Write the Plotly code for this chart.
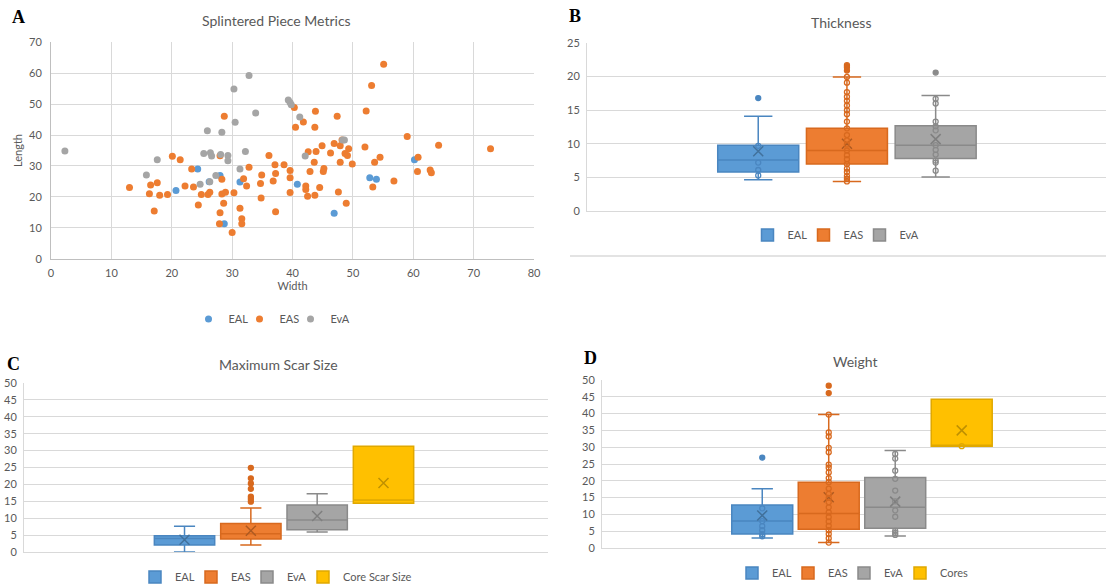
import plotly.graph_objects as go

# ---------------- Panel A data: Splintered Piece Metrics (Width vs Length) ----------------
eal_w = [20.7, 24.3, 26.2, 28.0, 28.7, 31.3, 40.8, 46.9, 52.8, 53.9, 60.2]
eal_l = [22.1, 29.0, 24.9, 26.9, 11.3, 24.8, 24.1, 14.7, 26.2, 25.7, 32.0]

eas_w = [13.0, 16.5, 16.3, 17.1, 17.6, 18.0, 19.3, 20.1, 21.4, 22.2, 23.3, 23.6, 24.4, 24.9,
         26.0, 26.3, 28.0, 28.3, 28.0, 27.9, 28.3, 28.6, 28.9, 28.7, 30.0, 30.3, 31.3, 31.6,
         31.6, 31.9, 32.4, 32.8, 34.7, 34.9, 34.8, 36.1, 36.8, 37.1, 37.2, 37.2, 38.6, 39.6,
         39.6, 39.6, 40.3, 40.5, 41.8, 42.2, 42.2, 42.5, 42.6, 42.9, 43.6, 43.7, 43.8, 43.7,
         43.9, 44.5, 44.9, 45.1, 45.2, 46.3, 46.9, 47.4, 47.6, 47.9, 47.9, 48.2, 48.7, 48.9,
         49.1, 49.3, 49.9, 52.0, 52.2, 53.1, 53.3, 53.6, 54.5, 55.1, 56.8, 59.0, 60.7, 60.8,
         62.8, 63.0, 64.2, 72.8]
eas_l = [23.0, 23.8, 21.0, 15.4, 24.6, 20.5, 20.8, 33.1, 32.0, 23.5, 29.0, 23.2, 17.4, 20.8,
         20.8, 21.5, 33.3, 25.7, 14.9, 11.3, 20.9, 17.9, 21.5, 46.1, 8.5, 21.3, 16.3, 12.9,
         11.3, 25.9, 23.5, 29.6, 24.3, 27.1, 19.6, 33.4, 25.1, 30.4, 27.6, 15.2, 30.4, 28.5,
         26.2, 21.4, 48.9, 42.5, 44.2, 23.5, 22.4, 20.2, 34.6, 28.2, 31.2, 42.5, 47.7, 20.5,
         34.7, 23.0, 36.5, 28.2, 29.2, 34.2, 37.3, 46.1, 21.6, 31.2, 36.5, 38.4, 34.0, 17.9,
         33.4, 35.6, 30.6, 36.1, 47.8, 56.0, 23.2, 31.2, 32.8, 62.9, 25.1, 39.5, 28.2, 32.8,
         28.7, 27.8, 36.7, 35.6]

eva_w = [2.3, 17.6, 15.8, 24.7, 25.3, 25.9, 26.4, 26.6, 26.3, 27.3, 28.1, 28.3, 29.3, 29.3,
         30.3, 30.5, 31.3, 32.2, 32.8, 33.9, 39.3, 39.6, 39.8, 41.2, 42.1, 48.3, 48.6]
eva_l = [34.8, 32.0, 27.1, 24.1, 34.0, 41.4, 34.3, 33.2, 24.9, 26.9, 33.7, 40.9, 33.4, 31.7,
         54.9, 44.1, 29.0, 34.7, 59.3, 47.1, 51.3, 50.5, 49.8, 45.8, 33.2, 38.4, 38.4]

# ---------------- Panel B data: Thickness ----------------
thick_groups = ["EAL", "EAS", "EvA"]
thick_lo = [4.65, 4.4, 5.05]
thick_q1 = [5.8, 7.0, 7.8]
thick_med = [7.6, 9.0, 9.8]
thick_q3 = [9.8, 12.3, 12.7]
thick_hi = [14.1, 19.95, 17.2]
thick_mean = [8.9, 10.0, 10.7]
thick_in_eal = [5.3, 6.1, 7.2, 9.7]
thick_out_eal = [16.8]
thick_in_eas = [19.95, 19.1, 17.7, 17.0, 16.4, 15.7, 15.0, 14.4, 13.3, 12.3, 11.3, 10.5,
                9.9, 9.0, 8.3, 7.7, 7.0, 6.3, 5.8, 5.2, 4.8, 4.4]
thick_out_eas = [21.7, 21.4, 20.9]
thick_in_eva = [16.7, 16.0, 13.3, 12.6, 12.0, 9.8, 9.1, 8.4, 7.5, 7.2, 6.0]
thick_out_eva = [20.6]

# ---------------- Panel C data: Maximum Scar Size ----------------
scar_groups = ["EAL", "EAS", "EvA", "Core Scar Size"]
scar_lo = [0.0, 2.07, 5.9, 14.4]
scar_q1 = [2.07, 3.85, 6.6, 14.4]
scar_med = [4.0, 5.4, 9.5, 15.4]
scar_q3 = [4.83, 8.4, 13.9, 31.3]
scar_hi = [7.6, 13.0, 17.2, 31.3]
scar_mean = [3.6, 6.3, 10.65, 20.4]
scar_out_eas = [24.9, 21.8, 20.3, 18.7, 16.4, 15.7, 14.9]

# ---------------- Panel D data: Weight ----------------
wt_groups = ["EAL", "EAS", "EvA", "Cores"]
wt_lo = [2.97, 1.6, 3.6, 30.3]
wt_q1 = [4.16, 5.6, 5.9, 30.3]
wt_med = [8.0, 10.3, 12.1, 30.3]
wt_q3 = [12.8, 19.6, 21.0, 44.3]
wt_hi = [17.6, 39.7, 29.0, 44.3]
wt_mean = [9.7, 15.1, 13.8, 35.0]
wt_in_eal = [11.8, 8.0, 6.5, 5.3, 4.1, 3.5]
wt_out_eal = [26.9]
wt_in_eas = [39.7, 34.4, 33.2, 29.8, 28.5, 24.8, 23.9, 22.5, 20.8, 19.6, 17.7, 16.1, 14.9,
             13.6, 12.1, 10.6, 9.2, 7.9, 6.6, 5.3, 4.2, 2.9, 1.6]
wt_out_eas = [48.3, 46.1]
wt_in_eva = [28.0, 26.6, 23.0, 20.6, 17.1, 13.9, 11.2, 9.3, 5.1, 4.5, 3.9]
wt_in_cores = [30.3]

# ---------------- styling ----------------
FILL = ["#5B9BD5", "#ED7D31", "#A5A5A5", "#FFC000"]
LINE = ["#4A86C0", "#D8691E", "#8A8A8A", "#E0A800"]
DARK = ["#41719C", "#AE5A21", "#7F7F7F", "#BF9000"]
TXT = "#595959"
GRID = "#D9D9D9"
FONT = "Lato, Open Sans, sans-serif"
W, H = 1106, 584
COMPACT_DOT = 6    # compact legend entry width (px) for scatter legend entries
COMPACT_BOX = 11   # compact legend entry width (px) for box legend entries

fig = go.Figure()

# Panel A scatter
a_series = [("EAL", eal_w, eal_l), ("EAS", eas_w, eas_l), ("EvA", eva_w, eva_l)]
for i, (name, xs, ys) in enumerate(a_series):
    fig.add_trace(go.Scatter(x=xs, y=ys, mode="markers", name=name,
                             marker=dict(color=FILL[i], size=7), xaxis="x", yaxis="y",
                             legend="legend",
                             legendwidth=COMPACT_DOT if i < len(a_series) - 1 else None))


def add_boxes(groups, lo, q1, med, q3, hi, mean, xa, ya, leg, width):
    for i, g in enumerate(groups):
        fig.add_trace(go.Box(x=[g], lowerfence=[lo[i]], q1=[q1[i]], median=[med[i]],
                             q3=[q3[i]], upperfence=[hi[i]], name=g, boxpoints=False,
                             fillcolor=FILL[i], line=dict(color=LINE[i], width=1.5),
                             whiskerwidth=0.35, width=width, xaxis=xa, yaxis=ya,
                             legend=leg, showlegend=True,
                             legendwidth=COMPACT_BOX if i < len(groups) - 1 else None))
    for i, g in enumerate(groups):
        fig.add_trace(go.Scatter(x=[g], y=[mean[i]], mode="markers", showlegend=False,
                                 marker=dict(symbol="x-thin", size=10, color=DARK[i],
                                             line=dict(color=DARK[i], width=1.5)),
                                 xaxis=xa, yaxis=ya, hoverinfo="y"))


def add_points(g, vals, idx, xa, ya, filled):
    fig.add_trace(go.Scatter(x=[g] * len(vals), y=vals, mode="markers", showlegend=False,
                             marker=dict(symbol="circle" if filled else "circle-open",
                                         size=5, color=LINE[idx],
                                         line=dict(color=LINE[idx], width=1.3)),
                             xaxis=xa, yaxis=ya, hoverinfo="y"))


# Panel B
add_boxes(thick_groups, thick_lo, thick_q1, thick_med, thick_q3, thick_hi, thick_mean,
          "x2", "y2", "legend2", 0.913)
add_points("EAL", thick_in_eal, 0, "x2", "y2", False)
add_points("EAL", thick_out_eal, 0, "x2", "y2", True)
add_points("EAS", thick_in_eas, 1, "x2", "y2", False)
add_points("EAS", thick_out_eas, 1, "x2", "y2", True)
add_points("EvA", thick_in_eva, 2, "x2", "y2", False)
add_points("EvA", thick_out_eva, 2, "x2", "y2", True)

# Panel C
add_boxes(scar_groups, scar_lo, scar_q1, scar_med, scar_q3, scar_hi, scar_mean,
          "x3", "y3", "legend3", 0.91)
add_points("EAS", scar_out_eas, 1, "x3", "y3", True)

# Panel D
add_boxes(wt_groups, wt_lo, wt_q1, wt_med, wt_q3, wt_hi, wt_mean,
          "x4", "y4", "legend4", 0.917)
add_points("EAL", wt_in_eal, 0, "x4", "y4", False)
add_points("EAL", wt_out_eal, 0, "x4", "y4", True)
add_points("EAS", wt_in_eas, 1, "x4", "y4", False)
add_points("EAS", wt_out_eas, 1, "x4", "y4", True)
add_points("EvA", wt_in_eva, 2, "x4", "y4", False)
add_points("Cores", wt_in_cores, 3, "x4", "y4", False)


def px_x(p):
    return p / W


def px_y(p):
    return 1 - p / H


tickf = dict(family=FONT, size=11, color=TXT)


def cat_axis(dom, rng, anchor, cats):
    return dict(domain=dom, range=rng, type="category", categoryorder="array",
                categoryarray=cats, showticklabels=False, showgrid=False, zeroline=False,
                showline=True, linecolor=GRID, linewidth=1, anchor=anchor, fixedrange=True,
                automargin=False)


def val_axis(dom, rng, dtick, anchor):
    return dict(domain=dom, range=rng, dtick=dtick, showgrid=True, gridcolor=GRID,
                gridwidth=1, zeroline=False, showline=True, linecolor=GRID, linewidth=1,
                tickfont=tickf, anchor=anchor, ticks="", ticklabelstandoff=4,
                automargin=False)


layout = dict(
    width=W, height=H, margin=dict(l=0, r=0, t=0, b=0, autoexpand=False),
    paper_bgcolor="white", plot_bgcolor="white", boxmode="overlay",
    font=dict(family=FONT, color=TXT),
    xaxis=dict(domain=[px_x(51), px_x(534)], range=[0, 80], dtick=10, showgrid=True,
               gridcolor=GRID, zeroline=False, showline=True, linecolor="#BFBFBF",
               tickfont=tickf, anchor="y", ticks="", ticklabelstandoff=4, automargin=False,
               title=dict(text="Width", font=dict(family=FONT, size=11, color=TXT),
                          standoff=4)),
    yaxis=dict(domain=[px_y(258.7), px_y(42.3)], range=[0, 70], dtick=10, showgrid=True,
               gridcolor=GRID, zeroline=False, showline=True, linecolor="#BFBFBF",
               tickfont=tickf, anchor="x", ticks="", ticklabelstandoff=6, automargin=False,
               title=dict(text="Length", font=dict(family=FONT, size=11, color=TXT),
                          standoff=4)),
    xaxis2=cat_axis([px_x(587), 1.0], [-1.93, 3.92], "y2", thick_groups),
    yaxis2=val_axis([px_y(211), px_y(43)], [0, 25], 5, "x2"),
    xaxis3=cat_axis([px_x(24), px_x(548)], [-2.42, 5.48], "y3", scar_groups),
    yaxis3=val_axis([px_y(552), px_y(383)], [0, 50], 5, "x3"),
    xaxis4=cat_axis([px_x(602), 1.0], [-2.41, 5.17], "y4", wt_groups),
    yaxis4=val_axis([px_y(548), px_y(380)], [0, 50], 5, "x4"),
)

legfont = dict(family=FONT, size=11, color=TXT)
for key, cx, cy in [("legend", 272, 319), ("legend2", 836, 235), ("legend3", 276, 577),
                    ("legend4", 853, 573)]:
    layout[key] = dict(orientation="h", x=px_x(cx), y=px_y(cy), xanchor="center",
                       yanchor="middle", font=legfont, bgcolor="rgba(0,0,0,0)",
                       itemwidth=30, tracegroupgap=0)

fig.update_layout(**layout)

# Titles and panel letters
for text, cx, cy in [("Splintered Piece Metrics", 276, 20), ("Thickness", 841, 22),
                     ("Maximum Scar Size", 278, 364), ("Weight", 855, 361)]:
    fig.add_annotation(text=text, x=px_x(cx), y=px_y(cy), xref="paper", yref="paper",
                       showarrow=False, xanchor="center", yanchor="middle",
                       font=dict(family=FONT, size=14, color=TXT))
for text, cx, cy in [("A", 18, 17), ("B", 575, 16), ("C", 13, 364), ("D", 590, 358)]:
    fig.add_annotation(text="<b>%s</b>" % text, x=px_x(cx), y=px_y(cy), xref="paper",
                       yref="paper", showarrow=False, xanchor="center", yanchor="middle",
                       font=dict(family="Liberation Serif, serif", size=18, color="black"))

# separator line under panel B
fig.add_shape(type="line", xref="paper", yref="paper", x0=px_x(570), x1=1.0,
              y0=px_y(256), y1=px_y(256), line=dict(color="#E3E3E3", width=2))

fig.write_html("out.html", config={"displayModeBar": False},
               post_script="document.body.style.margin='0';"
                           "document.body.style.overflow='hidden';")
